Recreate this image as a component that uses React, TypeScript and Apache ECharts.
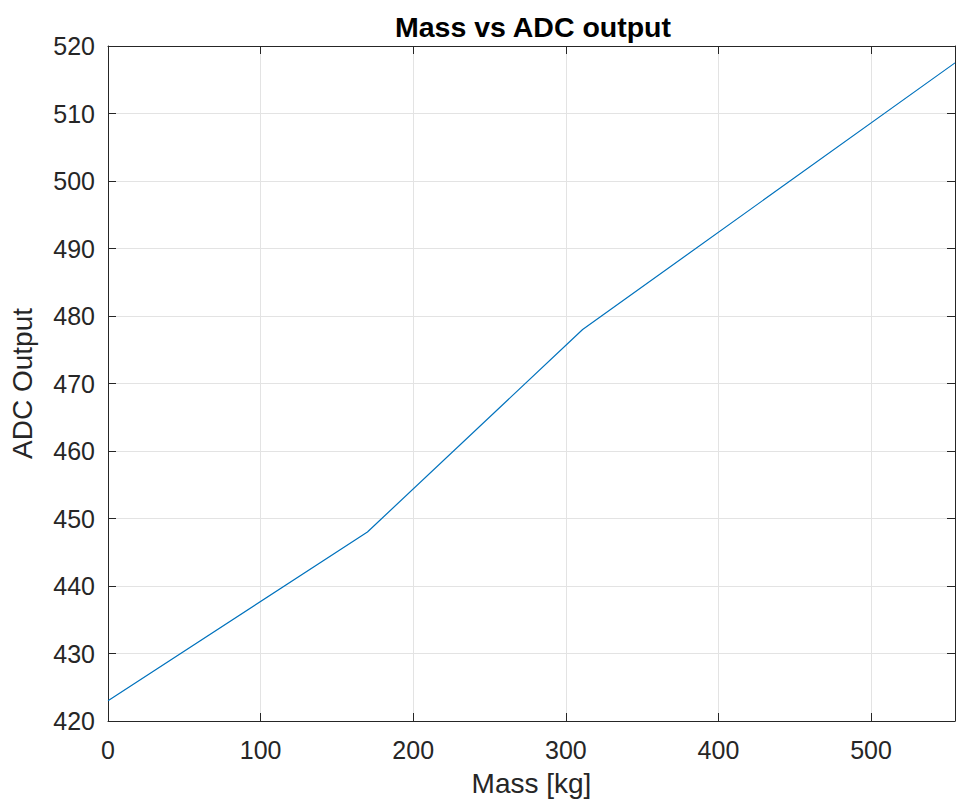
import React, { useEffect, useRef } from "react";
import * as echarts from "echarts";

const massKg = [0, 170, 311, 555];
const adcOutput = [423, 448, 478, 517.5];
const xTicks = [0, 100, 200, 300, 400, 500];
const yTicks = [420, 430, 440, 450, 460, 470, 480, 490, 500, 510, 520];

const FONT = "'Liberation Sans', Arial, Helvetica, sans-serif";
const AX = "#262626";
const GRID = "#e3e3e3";

export default function App() {
  const ref = useRef<HTMLDivElement>(null);
  useEffect(() => {
    if (!ref.current) return;
    const chart = echarts.init(ref.current, undefined, { renderer: "svg" });
    const xMin = xTicks[0];
    const xMax = 555;
    const yMin = yTicks[0];
    const yMax = yTicks[yTicks.length - 1];
    const baseAxis = {
      axisLine: { show: true, onZero: false, lineStyle: { color: AX, width: 1 } },
      axisTick: { show: true, inside: true, length: 8, lineStyle: { color: AX, width: 1 } },
    };
    chart.setOption({
      animation: false,
      backgroundColor: "#ffffff",
      title: {
        text: "Mass vs ADC output",
        left: 528,
        textAlign: "center",
        top: 7,
        textStyle: { fontFamily: FONT, fontSize: 28.5, fontWeight: "bold", color: "#000000" },
      },
      grid: { left: 106, right: 1, top: 46, bottom: 87, containLabel: false },
      xAxis: [
        {
          ...baseAxis,
          type: "value",
          position: "bottom",
          min: xMin,
          max: xMax,
          interval: 100,
          name: "Mass [kg]",
          nameLocation: "middle",
          nameGap: 48,
          nameTextStyle: { fontFamily: FONT, fontSize: 28, color: AX },
          axisLabel: {
            fontFamily: FONT,
            fontSize: 25,
            color: AX,
            margin: 16,
            showMaxLabel: false,
            formatter: (v: number) => (xTicks.includes(v) ? String(v) : ""),
          },
          splitLine: { show: true, lineStyle: { color: GRID, width: 1 } },
        },
        {
          ...baseAxis,
          type: "value",
          position: "top",
          min: xMin,
          max: xMax,
          interval: 100,
          axisLabel: { show: false },
          splitLine: { show: false },
        },
      ],
      yAxis: [
        {
          ...baseAxis,
          type: "value",
          position: "left",
          min: yMin,
          max: yMax,
          interval: 10,
          name: "ADC Output",
          nameLocation: "middle",
          nameGap: 72,
          nameTextStyle: { fontFamily: FONT, fontSize: 28, color: AX },
          axisLabel: { fontFamily: FONT, fontSize: 25, color: AX, margin: 13 },
          splitLine: { show: true, lineStyle: { color: GRID, width: 1 } },
        },
        {
          ...baseAxis,
          type: "value",
          position: "right",
          min: yMin,
          max: yMax,
          interval: 10,
          axisLabel: { show: false },
          splitLine: { show: false },
        },
      ],
      series: [
        {
          type: "line",
          data: massKg.map((m, i) => [m, adcOutput[i]]),
          showSymbol: false,
          symbol: "none",
          lineStyle: { color: "#0072BD", width: 1.2 },
          xAxisIndex: 0,
          yAxisIndex: 0,
        },
      ],
    });
    return () => chart.dispose();
  }, []);
  return <div ref={ref} style={{ width: 956, height: 808, position: "absolute", left: 0, top: 0 }} />;
}
